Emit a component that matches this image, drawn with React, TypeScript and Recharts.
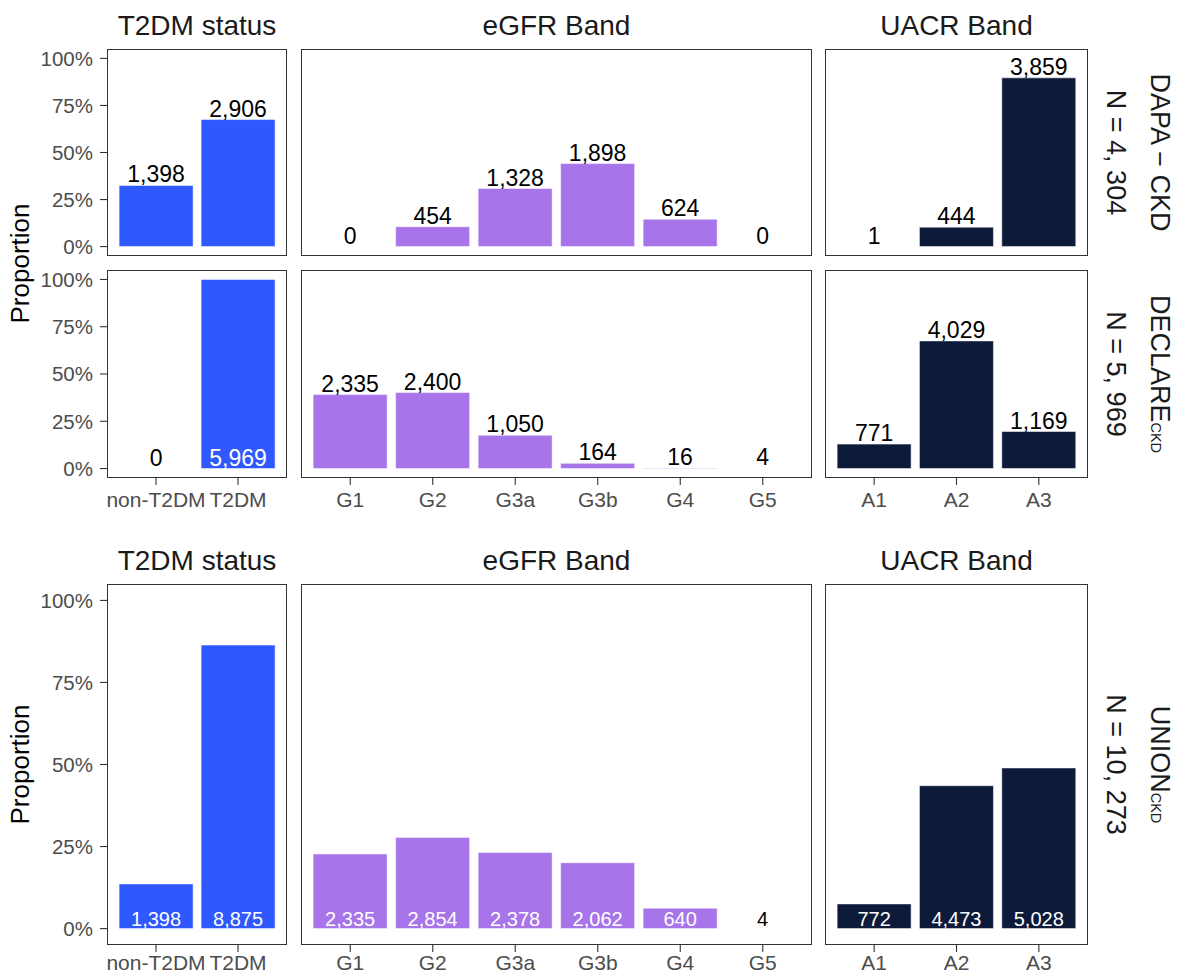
import { Bar, BarChart, LabelList, XAxis, YAxis } from "recharts";

const FONT = "'Liberation Sans', Arial, Helvetica, sans-serif";

const t2dmCategories = ["non-T2DM", "T2DM"];
const egfrCategories = ["G1", "G2", "G3a", "G3b", "G4", "G5"];
const uacrCategories = ["A1", "A2", "A3"];

// counts per category, one list per trial and facet
const dapaT2dm = [1398, 2906];
const dapaEgfr = [0, 454, 1328, 1898, 624, 0];
const dapaUacr = [1, 444, 3859];

const declareT2dm = [0, 5969];
const declareEgfr = [2335, 2400, 1050, 164, 16, 4];
const declareUacr = [771, 4029, 1169];

const unionT2dm = [1398, 8875];
const unionEgfr = [2335, 2854, 2378, 2062, 640, 4];
const unionUacr = [772, 4473, 5028];

const trialNames = ["DAPA \u2212 CKD", "DECLARE", "UNION"];
const trialSubscripts = ["", "CKD", "CKD"];
const trialTotals = ["N = 4, 304", "N = 5, 969", "N = 10, 273"];

const facetTitles = ["T2DM status", "eGFR Band", "UACR Band"];
const yTicks = [0, 0.25, 0.5, 0.75, 1];

const BLUE = "#3058ff";
const PURPLE = "#a874e9";
const NAVY = "#0e1a3a";

const COLS = [
  { left: 107, width: 180 },
  { left: 301, width: 511 },
  { left: 825, width: 263 },
];
const ROWS = [
  { top: 49, height: 207 },
  { top: 270, height: 208 },
  { top: 584, height: 361 },
];
const PAD = 14; // room so tick text at the panel edges is not clipped

const makeLabel = (row: number, total: number) => (props: any) => {
  const vb = props.viewBox ?? props;
  const x = Number(vb.x);
  const y = Number(vb.y);
  const w = Number(vb.width);
  const h = Number(vb.height) || 0;
  const value = Number(props.value);
  const share = value / total;
  const inside = row === 2 || share > 0.9;
  const fill = inside && share > 0.02 ? "#ffffff" : "#000000";
  const bottom = Math.max(y, y + h);
  const baseY = inside ? bottom - 3 : Math.min(y, y + h) - 3;
  return (
    <text
      x={x + w / 2}
      y={value === 0 ? bottom - 3 : baseY}
      textAnchor="middle"
      fill={fill}
      fontSize={row === 2 ? 20 : 23}
      fontFamily={FONT}
    >
      {value.toLocaleString("en-US")}
    </text>
  );
};

function Panel({
  row,
  col,
  categories,
  counts,
  color,
}: {
  row: number;
  col: number;
  categories: string[];
  counts: number[];
  color: string;
}) {
  const total = counts.reduce((a, b) => a + b, 0);
  const data = categories.map((c, i) => ({ cat: c, count: counts[i], prop: counts[i] / total }));
  const showY = col === 0;
  const showX = row > 0;
  const yW = showY ? 107 : 0;
  const xH = showX ? 40 : 0;
  const bottomPad = showX ? 0 : PAD;
  const { left, width } = COLS[col];
  const { top, height } = ROWS[row];

  return (
    <>
      <div style={{ position: "absolute", left: left - yW, top: top - PAD }}>
        <BarChart
          width={yW + width}
          height={PAD + height + xH + bottomPad}
          data={data}
          margin={{ top: PAD, right: 0, bottom: bottomPad, left: 0 }}
          barCategoryGap="5%"
        >
          <XAxis
            dataKey="cat"
            hide={!showX}
            height={xH}
            padding={{ left: 8, right: 8 }}
            interval={0}
            axisLine={false}
            tickLine={{ stroke: "#333333", strokeWidth: 1.1 }}
            tickSize={7}
            tickMargin={row === 2 ? 3 : 7}
            tick={{ fill: "#4d4d4d", fontSize: 21, fontFamily: FONT }}
          />
          <YAxis
            type="number"
            domain={[-0.05, 1.05]}
            ticks={yTicks}
            interval={0}
            allowDataOverflow
            hide={!showY}
            width={yW}
            axisLine={false}
            tickLine={{ stroke: "#333333", strokeWidth: 1.1 }}
            tickSize={7}
            tickMargin={7}
            tickFormatter={(v: number) => `${Math.round(v * 100)}%`}
            tick={{ fill: "#4d4d4d", fontSize: 20.5, fontFamily: FONT }}
          />
          <Bar
            dataKey="prop"
            fill={color}
            stroke="#ffffff"
            strokeOpacity={0.5}
            strokeWidth={1}
            minPointSize={(v: number) => (v === 0 ? 0.01 : 0)}
            isAnimationActive={false}
          >
            <LabelList dataKey="count" content={makeLabel(row, total)} />
          </Bar>
        </BarChart>
      </div>
      <div
        style={{
          position: "absolute",
          left,
          top,
          width,
          height,
          border: "1.3px solid #333333",
          boxSizing: "border-box",
          pointerEvents: "none",
        }}
      />
    </>
  );
}

const panelRows = [
  [dapaT2dm, dapaEgfr, dapaUacr],
  [declareT2dm, declareEgfr, declareUacr],
  [unionT2dm, unionEgfr, unionUacr],
];
const panelCategories = [t2dmCategories, egfrCategories, uacrCategories];
const panelColors = [BLUE, PURPLE, NAVY];

export default function App() {
  return (
    <div
      style={{
        position: "absolute",
        left: 0,
        top: 0,
        width: 1182,
        height: 976,
        overflow: "hidden",
        background: "#ffffff",
        fontFamily: FONT,
      }}
    >
      {panelRows.map((cells, r) =>
        cells.map((counts, c) => (
          <Panel
            key={`${r}-${c}`}
            row={r}
            col={c}
            categories={panelCategories[c]}
            counts={counts}
            color={panelColors[c]}
          />
        ))
      )}
      <svg
        width={1182}
        height={976}
        style={{ position: "absolute", left: 0, top: 0, pointerEvents: "none" }}
        fontFamily={FONT}
      >
        {[0, 2].map((r) =>
          facetTitles.map((t, c) => (
            <text
              key={`strip-${r}-${c}`}
              x={COLS[c].left + COLS[c].width / 2}
              y={ROWS[r].top - 14}
              textAnchor="middle"
              fontSize={28}
              fill="#1a1a1a"
            >
              {t}
            </text>
          ))
        )}
        {trialNames.map((name, r) => {
          const cy = ROWS[r].top + ROWS[r].height / 2;
          return (
            <g key={`trial-${r}`}>
              <text
                transform={`translate(1151, ${cy}) rotate(90)`}
                textAnchor="middle"
                fontSize={27}
                fill="#1a1a1a"
              >
                {name}
                {trialSubscripts[r] && <tspan fontSize={14.5}>{trialSubscripts[r]}</tspan>}
              </text>
              <text
                transform={`translate(1107, ${cy}) rotate(90)`}
                textAnchor="middle"
                fontSize={27}
                fill="#1a1a1a"
              >
                {trialTotals[r]}
              </text>
            </g>
          );
        })}
        <text
          transform={`translate(29, ${(ROWS[0].top + ROWS[1].top + ROWS[1].height) / 2}) rotate(-90)`}
          textAnchor="middle"
          fontSize={26}
          fill="#000000"
        >
          Proportion
        </text>
        <text
          transform={`translate(29, ${ROWS[2].top + ROWS[2].height / 2}) rotate(-90)`}
          textAnchor="middle"
          fontSize={26}
          fill="#000000"
        >
          Proportion
        </text>
      </svg>
    </div>
  );
}
